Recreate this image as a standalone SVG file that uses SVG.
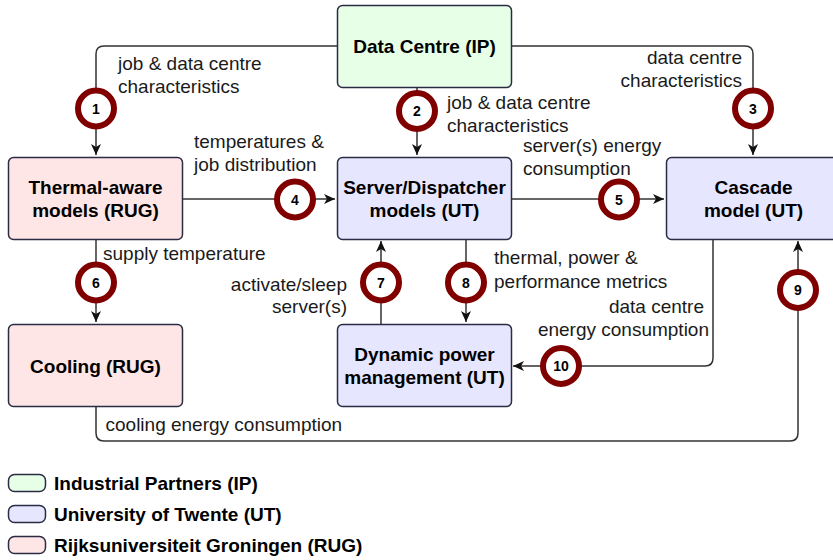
<svg xmlns="http://www.w3.org/2000/svg" width="833" height="560" viewBox="0 0 833 560">
  <style>
    .box { stroke: #2b2b45; stroke-width: 1.5; }
    .ip { fill: #e6ffe6; }
    .ut { fill: #e6e6ff; }
    .rug { fill: #ffe6e6; }
    .title { font-family: "Liberation Sans", Arial, sans-serif; font-size: 19px; font-weight: bold; fill: #000; text-anchor: middle; }
    .lbl { font-family: "Liberation Sans", Arial, sans-serif; font-size: 19px; fill: #1a1a1a; }
    .end { text-anchor: end; }
    .edge { fill: none; stroke: #333; stroke-width: 1.5; }
    .step circle { fill: #fff; stroke: #800000; stroke-width: 6; }
    .step text { font-family: "Liberation Sans", Arial, sans-serif; font-size: 14px; font-weight: bold; fill: #000; text-anchor: middle; }
    .legend { font-family: "Liberation Sans", Arial, sans-serif; font-size: 19px; font-weight: bold; fill: #000; }
  </style>
  <defs>
    <marker id="arrow" markerUnits="userSpaceOnUse" markerWidth="12" markerHeight="12" viewBox="0 0 12 12" refX="11" refY="6" orient="auto">
      <path d="M0,1 L11,6 L0,11 L3,6 z" fill="#111"/>
    </marker>
  </defs>

  <rect width="833" height="560" fill="#fff"/>

  <!-- connectors -->
  <g id="connectors">
    <path class="edge" d="M337,46 H104 Q96,46 96,54 V155" marker-end="url(#arrow)"/>
    <path class="edge" d="M417,87 V155" marker-end="url(#arrow)"/>
    <path class="edge" d="M511,46 H745 Q753,46 753,54 V155" marker-end="url(#arrow)"/>
    <path class="edge" d="M182,199 H335" marker-end="url(#arrow)"/>
    <path class="edge" d="M511,199 H664" marker-end="url(#arrow)"/>
    <path class="edge" d="M96,239 V322" marker-end="url(#arrow)"/>
    <path class="edge" d="M381,324 V241" marker-end="url(#arrow)"/>
    <path class="edge" d="M466,239 V322" marker-end="url(#arrow)"/>
    <path class="edge" d="M96,407 V433 Q96,441 104,441 H790 Q798,441 798,433 V241" marker-end="url(#arrow)"/>
    <path class="edge" d="M713,239 V358 Q713,366 705,366 H513" marker-end="url(#arrow)"/>
  </g>

  <!-- nodes -->
  <g id="data-centre">
    <rect class="box ip" x="337.5" y="5.5" width="174" height="82" rx="5"/>
    <text class="title" x="424.5" y="53">Data Centre (IP)</text>
  </g>
  <g id="thermal-aware">
    <rect class="box rug" x="8.5" y="157.5" width="174" height="82" rx="5"/>
    <text class="title" x="95.5" y="193.5">Thermal-aware</text>
    <text class="title" x="95.5" y="216.5">models (RUG)</text>
  </g>
  <g id="server-dispatcher">
    <rect class="box ut" x="337.5" y="157.5" width="174" height="82" rx="5"/>
    <text class="title" x="424.5" y="193.5">Server/Dispatcher</text>
    <text class="title" x="424.5" y="216.5">models (UT)</text>
  </g>
  <g id="cascade">
    <rect class="box ut" x="666.5" y="157.5" width="174" height="82" rx="5"/>
    <text class="title" x="753.5" y="193.5">Cascade</text>
    <text class="title" x="753.5" y="216.5">model (UT)</text>
  </g>
  <g id="cooling">
    <rect class="box rug" x="8.5" y="324.5" width="174" height="82" rx="5"/>
    <text class="title" x="95.5" y="372.5">Cooling (RUG)</text>
  </g>
  <g id="dynamic-power">
    <rect class="box ut" x="337.5" y="324.5" width="174" height="82" rx="5"/>
    <text class="title" x="424.5" y="361">Dynamic power</text>
    <text class="title" x="424.5" y="384">management (UT)</text>
  </g>

  <!-- connector labels -->
  <g id="labels">
    <text class="lbl" x="118" y="70">job &amp; data centre</text>
    <text class="lbl" x="118" y="92.5">characteristics</text>
    <text class="lbl" x="447" y="109">job &amp; data centre</text>
    <text class="lbl" x="447" y="132">characteristics</text>
    <text class="lbl end" x="742" y="64">data centre</text>
    <text class="lbl end" x="742" y="87">characteristics</text>
    <text class="lbl" x="194" y="147.5">temperatures &amp;</text>
    <text class="lbl" x="194" y="171">job distribution</text>
    <text class="lbl" x="523" y="151.5">server(s) energy</text>
    <text class="lbl" x="523" y="175">consumption</text>
    <text class="lbl" x="103" y="259.5">supply temperature</text>
    <text class="lbl end" x="347" y="290.5">activate/sleep</text>
    <text class="lbl end" x="347" y="313">server(s)</text>
    <text class="lbl" x="494" y="264">thermal, power &amp;</text>
    <text class="lbl" x="494" y="287.5">performance metrics</text>
    <text class="lbl end" x="704" y="312.5">data centre</text>
    <text class="lbl end" x="709" y="336">energy consumption</text>
    <text class="lbl" x="105.5" y="431">cooling energy consumption</text>
  </g>

  <!-- step markers -->
  <g id="step-1" class="step"><circle cx="96" cy="108.5" r="18"/><text x="96" y="113.5">1</text></g>
  <g id="step-2" class="step"><circle cx="417" cy="111" r="18"/><text x="417" y="116">2</text></g>
  <g id="step-3" class="step"><circle cx="753" cy="108.5" r="18"/><text x="753" y="113.5">3</text></g>
  <g id="step-4" class="step"><circle cx="295" cy="199.5" r="18"/><text x="295" y="204.5">4</text></g>
  <g id="step-5" class="step"><circle cx="619" cy="199.5" r="18"/><text x="619" y="204.5">5</text></g>
  <g id="step-6" class="step"><circle cx="96" cy="282.5" r="18"/><text x="96" y="287.5">6</text></g>
  <g id="step-7" class="step"><circle cx="381" cy="282.5" r="18"/><text x="381" y="287.5">7</text></g>
  <g id="step-8" class="step"><circle cx="466" cy="282.5" r="18"/><text x="466" y="287.5">8</text></g>
  <g id="step-9" class="step"><circle cx="798" cy="290" r="18"/><text x="798" y="295">9</text></g>
  <g id="step-10" class="step"><circle cx="561" cy="366" r="18"/><text x="561" y="371">10</text></g>

  <!-- legend -->
  <g id="legend">
    <rect class="box ip" x="8.5" y="474.5" width="37" height="17" rx="6"/>
    <text class="legend" x="54" y="490">Industrial Partners (IP)</text>
    <rect class="box ut" x="8.5" y="505.5" width="37" height="17" rx="6"/>
    <text class="legend" x="54" y="521">University of Twente (UT)</text>
    <rect class="box rug" x="8.5" y="536.5" width="37" height="17" rx="6"/>
    <text class="legend" x="54" y="552">Rijksuniversiteit Groningen (RUG)</text>
  </g>
</svg>
